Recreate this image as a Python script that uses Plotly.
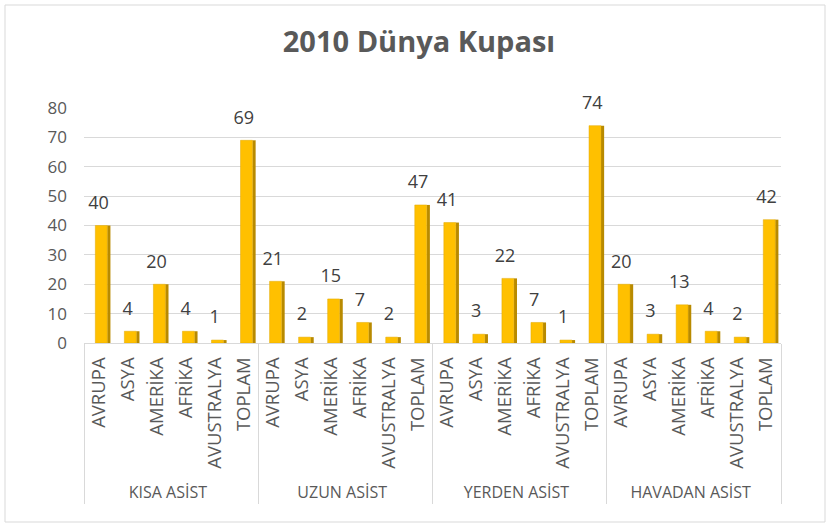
import plotly.graph_objects as go

groups = ["KISA ASİST", "UZUN ASİST", "YERDEN ASİST", "HAVADAN ASİST"]
regions = ["AVRUPA", "ASYA", "AMERİKA", "AFRİKA", "AVUSTRALYA", "TOPLAM"]
kisa = [40, 4, 20, 4, 1, 69]
uzun = [21, 2, 15, 7, 2, 47]
yerden = [41, 3, 22, 7, 1, 74]
havadan = [20, 3, 13, 4, 2, 42]
y_ticks = [0, 10, 20, 30, 40, 50, 60, 70, 80]

values = kisa + uzun + yerden + havadan
group_lbl = ["<span style='font-size:16px'>%s</span>" % g for g in groups]
lvl0 = [g for g in group_lbl for _ in regions]
lvl1 = regions * len(groups)
X = [lvl0, lvl1]

FONT = "Open Sans, Noto Sans, sans-serif"

fig = go.Figure()
# side face (3D look)
fig.add_trace(go.Bar(
    x=X, y=values, width=0.11, offset=0.3,
    marker=dict(color="#B88A00", line=dict(width=0)), hoverinfo="skip",
))
# front face
fig.add_trace(go.Bar(
    x=X, y=values, width=0.41, offset=-0.11,
    marker=dict(color="#FFC000", line=dict(color="#E0A800", width=0.5)),
))
# data labels
fig.add_trace(go.Scatter(
    x=X, y=values, mode="markers+text",
    marker=dict(size=18, color="rgba(0,0,0,0)"),
    text=[str(v) for v in values], textposition="top center",
    textfont=dict(family=FONT, size=18, color="#404040"),
    cliponaxis=False, hoverinfo="skip",
))

fig.update_layout(
    width=830, height=527,
    paper_bgcolor="white", plot_bgcolor="white",
    margin=dict(l=84, r=49, t=108, b=184),
    barmode="overlay",
    title=dict(text="<b>2010 Dünya Kupası</b>", x=419/830, xanchor="center", y=1 - 42/527, yanchor="middle",
               font=dict(family=FONT, size=29, color="#595959")),
    showlegend=False,
    font=dict(family=FONT, color="#595959"),
)
fig.update_yaxes(range=[0, 80], tickvals=y_ticks, showgrid=True, gridcolor="#D9D9D9", gridwidth=1,
                 zeroline=False, showline=False, ticks="", ticklabelstandoff=16,
                 tickfont=dict(family=FONT, size=17, color="#595959"))
fig.update_xaxes(type="multicategory", range=[-0.5, len(values) - 0.5], tickangle=-90,
                 showline=True, linecolor="#D9D9D9", linewidth=1, ticklabelstandoff=6,
                 showdividers=True, dividercolor="#D9D9D9", dividerwidth=1,
                 tickfont=dict(family=FONT, size=18.5, color="#595959"))
fig.add_shape(type="rect", xref="paper", yref="paper",
              x0=(5 - 84) / 697, x1=(825 - 84) / 697, y0=(343 - 522) / 235, y1=(343 - 5) / 235,
              line=dict(color="#D9D9D9", width=1), fillcolor="rgba(0,0,0,0)")
fig.write_html("out.html", config={"displayModeBar": False},
               post_script="document.body.style.margin='0';document.body.style.overflow='hidden';")
